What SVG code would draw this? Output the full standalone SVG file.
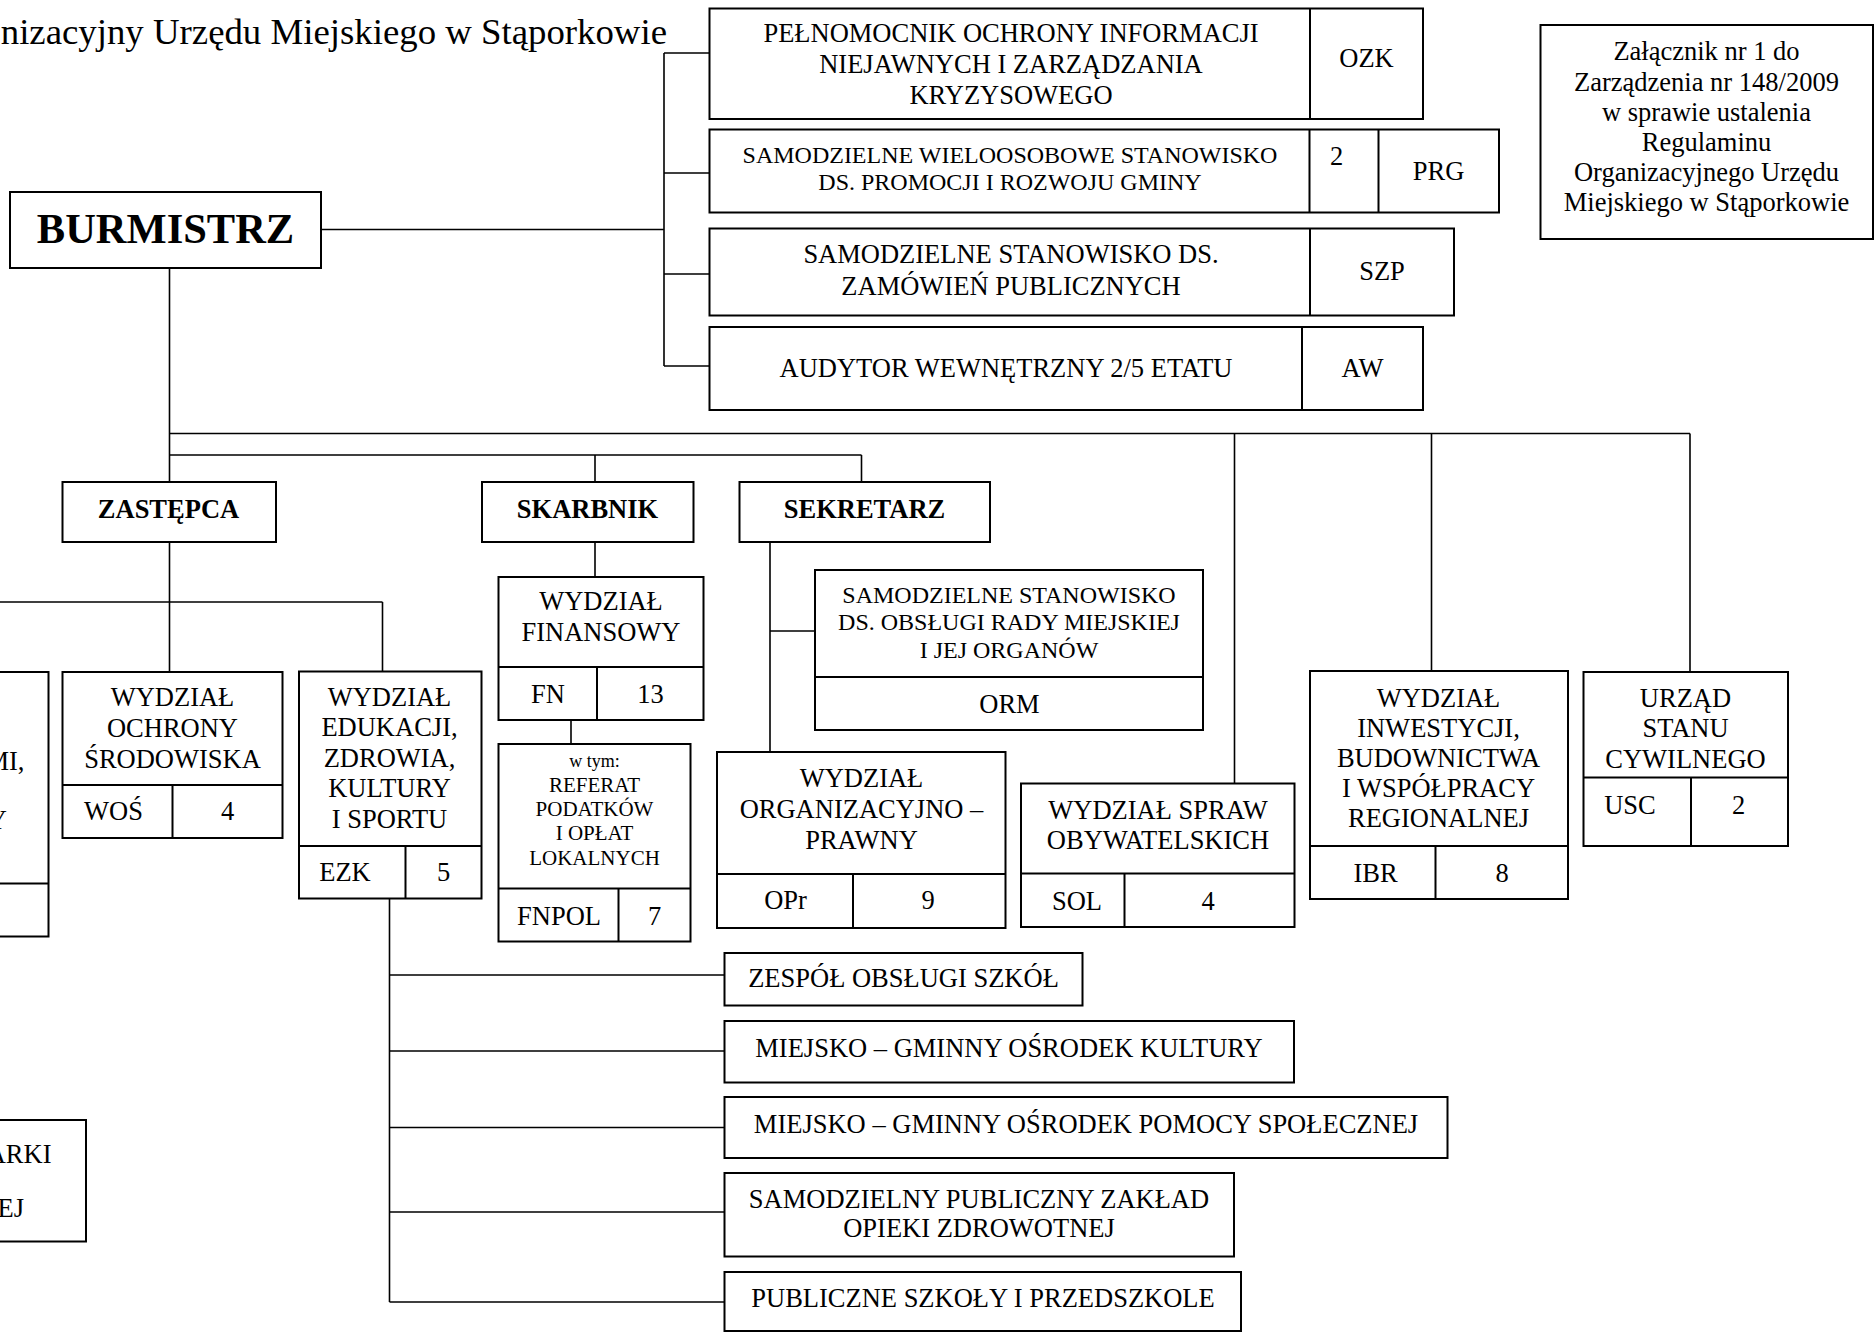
<svg xmlns="http://www.w3.org/2000/svg" width="1875" height="1333" viewBox="0 0 1875 1333">
<style>
.b{fill:#fff;stroke:#000;stroke-width:2}
.d{stroke:#000;stroke-width:2;fill:none}
.l{stroke:#000;stroke-width:1.6;fill:none}
text{font-family:"Liberation Serif","Times New Roman",serif;font-size:26.5px;text-anchor:middle;fill:#000}
.s24{font-size:24px}
.s21{font-size:21px}
.s18{font-size:18px}
.bo{font-weight:bold}
.e{text-anchor:end}
</style>
<rect width="1875" height="1333" fill="#fff"/>
<g id="connectors">
<path class="l" d="M321,229.5H664M664,53V366M664,53H709.5M664,173H709.5M664,274H709.5M664,366H709.5"/>
<path class="l" d="M169.5,268V482M169.5,433.5H1690M169.5,455H861.5M595,455V482M861.5,455V482M1234.5,433.5V783.5M1431.5,433.5V671M1690,433.5V672"/>
<path class="l" d="M169.5,542V672M0,602H382.5M382.5,602V671.5"/>
<path class="l" d="M595,542V577M571,720V744"/>
<path class="l" d="M770,540V752M770,631H815"/>
<path class="l" d="M389.5,898.5V1302M389.5,975H724.5M389.5,1051H724.5M389.5,1127.5H724.5M389.5,1212H724.5M389.5,1302H724.5"/>
</g>
<g id="title"><text x="667" y="44" class="e" style="font-size:36.8px">nizacyjny Urzędu Miejskiego w Stąporkowie</text></g>
<g id="burmistrz"><rect class="b" x="10" y="192" width="311" height="76"/><text x="165.5" y="243" class="bo" style="font-size:42.5px">BURMISTRZ</text></g>
<g id="ozk"><rect class="b" x="709.5" y="8.5" width="713.5" height="110.5"/><path class="d" d="M1310,8.5V119"/>
<text x="1011" y="41.5">PEŁNOMOCNIK OCHRONY INFORMACJI</text><text x="1011" y="72.5">NIEJAWNYCH I ZARZĄDZANIA</text><text x="1011" y="103.5">KRYZYSOWEGO</text><text x="1366.5" y="66.5">OZK</text></g>
<g id="prg"><rect class="b" x="709.5" y="129.5" width="789.5" height="83"/><path class="d" d="M1309.5,129.5V212.5M1378.5,129.5V212.5"/>
<text x="1010" y="163" class="s24">SAMODZIELNE WIELOOSOBOWE STANOWISKO</text><text x="1010" y="190" class="s24">DS. PROMOCJI I ROZWOJU GMINY</text><text x="1336.5" y="165">2</text><text x="1438.5" y="180">PRG</text></g>
<g id="szp"><rect class="b" x="709.5" y="228.5" width="744.5" height="87"/><path class="d" d="M1310,228.5V315.5"/>
<text x="1011" y="263">SAMODZIELNE STANOWISKO DS.</text><text x="1011" y="295">ZAMÓWIEŃ PUBLICZNYCH</text><text x="1382" y="280">SZP</text></g>
<g id="aw"><rect class="b" x="709.5" y="327" width="713.5" height="83"/><path class="d" d="M1302,327V410"/>
<text x="1006" y="377">AUDYTOR WEWNĘTRZNY 2/5 ETATU</text><text x="1362.5" y="377">AW</text></g>
<g id="zalacznik"><rect class="b" x="1540.5" y="25" width="332.5" height="214"/>
<text x="1706.5" y="60">Załącznik nr 1 do</text><text x="1706.5" y="90.5">Zarządzenia nr 148/2009</text><text x="1706.5" y="121">w sprawie ustalenia</text><text x="1706.5" y="151">Regulaminu</text><text x="1706.5" y="181">Organizacyjnego Urzędu</text><text x="1706.5" y="211">Miejskiego w Stąporkowie</text></g>
<g id="zastepca"><rect class="b" x="62.5" y="482" width="213.5" height="60"/><text x="168.5" y="518" class="bo">ZASTĘPCA</text></g>
<g id="skarbnik"><rect class="b" x="482" y="482" width="211.5" height="60"/><text x="587.5" y="518" class="bo">SKARBNIK</text></g>
<g id="sekretarz"><rect class="b" x="739.5" y="482" width="250.5" height="60"/><text x="864.5" y="518" class="bo">SEKRETARZ</text></g>
<g id="left-cut"><rect class="b" x="-20" y="672" width="68.5" height="264.5"/><path class="d" d="M-20,883.5H48.5"/>
<text x="24.5" y="770" class="e">MI,</text><text x="7" y="829" class="e">Y</text></g>
<g id="wos"><rect class="b" x="62.5" y="672" width="220" height="166"/><path class="d" d="M62.5,785H282.5M172.5,785V838"/>
<text x="172.5" y="705.5">WYDZIAŁ</text><text x="172.5" y="736.5">OCHRONY</text><text x="172.5" y="767.5">ŚRODOWISKA</text><text x="113.5" y="819.5">WOŚ</text><text x="227.5" y="819.5">4</text></g>
<g id="ezk"><rect class="b" x="299" y="671.5" width="182.5" height="227"/><path class="d" d="M299,846H481.5M405.5,846V898.5"/>
<text x="389.5" y="705.5">WYDZIAŁ</text><text x="389.5" y="736">EDUKACJI,</text><text x="389.5" y="766.5">ZDROWIA,</text><text x="389.5" y="797">KULTURY</text><text x="389.5" y="827.5">I SPORTU</text><text x="345" y="880.5">EZK</text><text x="443.5" y="880.5">5</text></g>
<g id="fn"><rect class="b" x="498.5" y="577" width="205" height="143"/><path class="d" d="M498.5,667H703.5M597,667V720"/>
<text x="601" y="609.5">WYDZIAŁ</text><text x="601" y="640.5">FINANSOWY</text><text x="548" y="702.5">FN</text><text x="650.5" y="702.5">13</text></g>
<g id="fnpol"><rect class="b" x="498.5" y="744" width="192" height="197.5"/><path class="d" d="M498.5,888.5H690.5M618.5,888.5V941.5"/>
<text x="594.5" y="767" class="s18">w tym:</text><text x="594.5" y="792" class="s21">REFERAT</text><text x="594.5" y="816" class="s21">PODATKÓW</text><text x="594.5" y="840" class="s21">I OPŁAT</text><text x="594.5" y="865" class="s21">LOKALNYCH</text><text x="559" y="924.5">FNPOL</text><text x="654.5" y="924.5">7</text></g>
<g id="orm"><rect class="b" x="815" y="570" width="388" height="160"/><path class="d" d="M815,677H1203"/>
<text x="1009" y="602.5" class="s24">SAMODZIELNE STANOWISKO</text><text x="1009" y="630" class="s24">DS. OBSŁUGI RADY MIEJSKIEJ</text><text x="1009" y="657.5" class="s24">I JEJ ORGANÓW</text><text x="1009.5" y="712.5">ORM</text></g>
<g id="opr"><rect class="b" x="717" y="752" width="288.5" height="176"/><path class="d" d="M717,874H1005.5M853,874V928"/>
<text x="861.5" y="786.5">WYDZIAŁ</text><text x="861.5" y="817.5">ORGANIZACYJNO –</text><text x="861.5" y="848.5">PRAWNY</text><text x="785.5" y="909">OPr</text><text x="928" y="909">9</text></g>
<g id="sol"><rect class="b" x="1021" y="783.5" width="273.5" height="143.5"/><path class="d" d="M1021,873.5H1294.5M1124.5,873.5V927"/>
<text x="1158" y="818.5">WYDZIAŁ SPRAW</text><text x="1158" y="848.5">OBYWATELSKICH</text><text x="1077" y="910">SOL</text><text x="1208" y="910">4</text></g>
<g id="ibr"><rect class="b" x="1310" y="671" width="258" height="228"/><path class="d" d="M1310,846H1568M1435.5,846V899"/>
<text x="1438.5" y="706.5">WYDZIAŁ</text><text x="1438.5" y="736.5">INWESTYCJI,</text><text x="1438.5" y="766.5">BUDOWNICTWA</text><text x="1438.5" y="796.5">I WSPÓŁPRACY</text><text x="1438.5" y="827">REGIONALNEJ</text><text x="1375.5" y="881.5">IBR</text><text x="1502" y="881.5">8</text></g>
<g id="usc"><rect class="b" x="1583.5" y="672" width="204.5" height="174"/><path class="d" d="M1583.5,777.5H1788M1691,777.5V846"/>
<text x="1685.5" y="706.5">URZĄD</text><text x="1685.5" y="736.5">STANU</text><text x="1685.5" y="768">CYWILNEGO</text><text x="1630" y="813.5">USC</text><text x="1738.5" y="813.5">2</text></g>
<g id="zos"><rect class="b" x="724.5" y="953" width="358" height="52.5"/><text x="903.5" y="987">ZESPÓŁ OBSŁUGI SZKÓŁ</text></g>
<g id="mgok"><rect class="b" x="724.5" y="1021" width="569.5" height="61.5"/><text x="1009" y="1057">MIEJSKO – GMINNY OŚRODEK KULTURY</text></g>
<g id="mops"><rect class="b" x="724.5" y="1097" width="723" height="61"/><text x="1086" y="1133">MIEJSKO – GMINNY OŚRODEK POMOCY SPOŁECZNEJ</text></g>
<g id="spzoz"><rect class="b" x="724.5" y="1173" width="509.5" height="83.5"/><text x="979" y="1208">SAMODZIELNY PUBLICZNY ZAKŁAD</text><text x="979" y="1237">OPIEKI ZDROWOTNEJ</text></g>
<g id="szkoly"><rect class="b" x="724.5" y="1272" width="516.5" height="59"/><text x="983" y="1307">PUBLICZNE SZKOŁY I PRZEDSZKOLE</text></g>
<g id="bottom-left-cut"><rect class="b" x="-20" y="1120" width="106" height="121.5"/><text x="51.5" y="1163" class="e">ARKI</text><text x="24" y="1217" class="e">EJ</text></g>
</svg>
